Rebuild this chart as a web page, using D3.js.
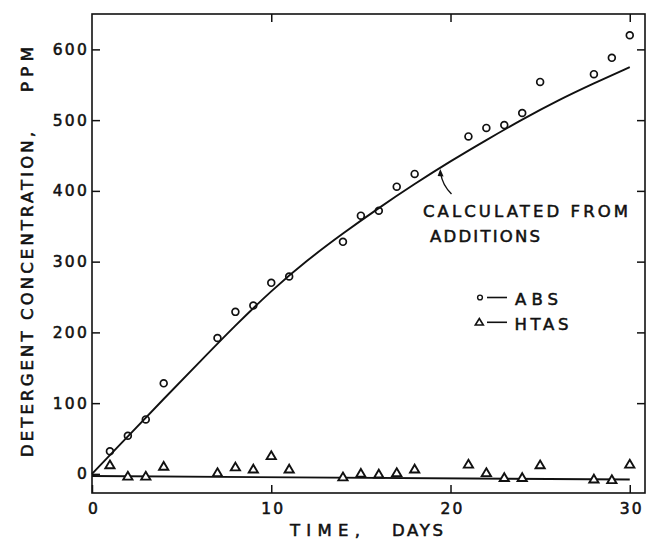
<!DOCTYPE html>
<html>
<head>
<meta charset="utf-8">
<script src="https://cdn.jsdelivr.net/npm/d3@7"></script>
<style>
  html, body { margin: 0; padding: 0; background: #fff; }
  svg { display: block; }
  text { font-family: "DejaVu Sans", sans-serif; fill: #111; stroke: #111; stroke-width: 0.55px; }
</style>
</head>
<body>
<svg id="chart" width="647" height="539"></svg>
<script>
// ---- Data ----
const days = [1, 2, 3, 4, 7, 8, 9, 10, 11, 14, 15, 16, 17, 18, 21, 22, 23, 24, 25, 28, 29, 30];
const absValues = [32, 54, 77, 128, 192, 229, 238, 270, 279, 328, 365, 372, 406, 424, 477, 489, 493, 510, 554, 565, 588, 620];
const htasValues = [13, -3, -3, 11, 2, 10, 7, 26, 7, -4, 1, 0, 2, 7, 14, 2, -5, -5, 13, -7, -8, 14];

// Curve "calculated from additions"
const calcDays = [0, 2, 4, 6, 8, 10, 12, 14, 16, 18, 20, 22, 24, 26, 28, 30];
const calcValues = [0, 53, 106, 158, 210, 259, 302, 340, 376, 410, 442, 472, 501, 528, 552, 575];

// HTAS line near zero
const htasLineDays = [0, 30];
const htasLineValues = [-3, -8];

const xTicks = [0, 10, 20, 30];
const yTicks = [0, 100, 200, 300, 400, 500, 600];

const yTitle = "DETERGENT CONCENTRATION,";
const yUnit = "PPM";
const xTitleA = "TIME,";
const xTitleB = "DAYS";
const annot1 = "CALCULATED FROM";
const annot2 = "ADDITIONS";
const legendLabels = ["ABS", "HTAS"];

// ---- Layout ----
const L = 92, R = 645, T = 14, B = 493;
const svg = d3.select("#chart");
const x = d3.scaleLinear().domain([0, 30.85]).range([L, R]);
const y = d3.scaleLinear().domain([-27, 650]).range([B, T]);
const ink = "#111";

// frame
svg.append("rect").attr("x", L).attr("y", T).attr("width", R - L).attr("height", B - T)
  .attr("fill", "none").attr("stroke", ink).attr("stroke-width", 1.6);

// axes (ticks inside)
function styleAxis(g) {
  g.select(".domain").remove();
  g.selectAll(".tick line").attr("stroke", ink).attr("stroke-width", 1.5);
  g.selectAll(".tick text").attr("font-size", 15.5).attr("fill", ink)
    .attr("font-family", "DejaVu Sans, sans-serif").style("letter-spacing", "2.2px");
}
svg.append("g").attr("transform", `translate(${L},0)`)
  .call(d3.axisLeft(y).tickValues(yTicks).tickSizeInner(-8).tickSizeOuter(0).tickPadding(3).tickFormat(d3.format("d")))
  .call(styleAxis);
svg.append("g").attr("transform", `translate(${R},0)`)
  .call(d3.axisRight(y).tickValues(yTicks.filter(d => d > 0)).tickSizeInner(-8).tickSizeOuter(0).tickFormat(""))
  .call(styleAxis);
svg.append("g").attr("transform", `translate(0,${B})`)
  .call(d3.axisBottom(x).tickValues(xTicks).tickSizeInner(-8).tickSizeOuter(0).tickPadding(10).tickFormat(d3.format("d")))
  .call(styleAxis)
  .call(g => g.selectAll(".tick text").attr("dx", "1.5"));
svg.append("g").attr("transform", `translate(0,${T})`)
  .call(d3.axisTop(x).tickValues(xTicks.filter(d => d > 0)).tickSizeInner(-8).tickSizeOuter(0).tickFormat(""))
  .call(styleAxis);

// calculated curve
const calcData = calcDays.map((d, i) => ({ t: d, v: calcValues[i] }));
svg.append("path").datum(calcData)
  .attr("d", d3.line().x(d => x(d.t)).y(d => y(d.v)).curve(d3.curveBasis))
  .attr("fill", "none").attr("stroke", ink).attr("stroke-width", 1.9);

// HTAS line
const htasLine = htasLineDays.map((d, i) => ({ t: d, v: htasLineValues[i] }));
svg.append("path").datum(htasLine)
  .attr("d", d3.line().x(d => x(d.t)).y(d => y(d.v)))
  .attr("fill", "none").attr("stroke", ink).attr("stroke-width", 1.9);

// ABS points
svg.append("g").selectAll("circle").data(days.map((d, i) => ({ t: d, v: absValues[i] })))
  .join("circle").attr("cx", d => x(d.t)).attr("cy", d => y(d.v)).attr("r", 3.4)
  .attr("fill", "none").attr("stroke", ink).attr("stroke-width", 1.7);

// HTAS points
const tri = "M0,-4.2 L4.6,3.6 L-4.6,3.6 Z";
svg.append("g").selectAll("path").data(days.map((d, i) => ({ t: d, v: htasValues[i] })))
  .join("path").attr("d", tri).attr("transform", d => `translate(${x(d.t)},${y(d.v)})`)
  .attr("fill", "#fff").attr("stroke", ink).attr("stroke-width", 1.9).attr("stroke-linejoin", "miter");

// annotation
svg.append("text").attr("x", 423).attr("y", 217).attr("font-size", 16.5)
  .attr("textLength", 205).attr("lengthAdjust", "spacing").text(annot1);
svg.append("text").attr("x", 430).attr("y", 242).attr("font-size", 16.5)
  .attr("textLength", 110).attr("lengthAdjust", "spacing").text(annot2);
svg.append("path").attr("d", "M451.5,194 Q442.5,185 440.8,174")
  .attr("fill", "none").attr("stroke", ink).attr("stroke-width", 1.4);
svg.append("path").attr("d", "M440.3,169 L443.6,176.5 L437.6,176 Z").attr("fill", ink);

// legend
svg.append("circle").attr("cx", 480).attr("cy", 297.5).attr("r", 2.4)
  .attr("fill", "none").attr("stroke", ink).attr("stroke-width", 1.4);
svg.append("line").attr("x1", 487).attr("x2", 507).attr("y1", 297.5).attr("y2", 297.5)
  .attr("stroke", ink).attr("stroke-width", 1.6);
svg.append("text").attr("x", 515).attr("y", 305).attr("font-size", 16.5)
  .attr("textLength", 43).attr("lengthAdjust", "spacing").text(legendLabels[0]);
svg.append("path").attr("d", "M0,-3.5 L4,3 L-4,3 Z").attr("transform", "translate(479.3,322)")
  .attr("fill", "#fff").attr("stroke", ink).attr("stroke-width", 1.6);
svg.append("line").attr("x1", 487).attr("x2", 507).attr("y1", 322.3).attr("y2", 322.3)
  .attr("stroke", ink).attr("stroke-width", 1.6);
svg.append("text").attr("x", 514.5).attr("y", 329.5).attr("font-size", 16.5)
  .attr("textLength", 54).attr("lengthAdjust", "spacing").text(legendLabels[1]);

// axis titles
svg.append("text").attr("transform", "translate(33,457) rotate(-90)").attr("font-size", 16.5)
  .attr("textLength", 325).attr("lengthAdjust", "spacing").text(yTitle);
svg.append("text").attr("transform", "translate(33,92) rotate(-90)").attr("font-size", 16.5)
  .attr("textLength", 45).attr("lengthAdjust", "spacing").text(yUnit);
svg.append("text").attr("x", 290).attr("y", 536).attr("font-size", 16.5)
  .attr("textLength", 70).attr("lengthAdjust", "spacing").text(xTitleA);
svg.append("text").attr("x", 392).attr("y", 536).attr("font-size", 16.5)
  .attr("textLength", 51).attr("lengthAdjust", "spacing").text(xTitleB);
</script>
</body>
</html>
